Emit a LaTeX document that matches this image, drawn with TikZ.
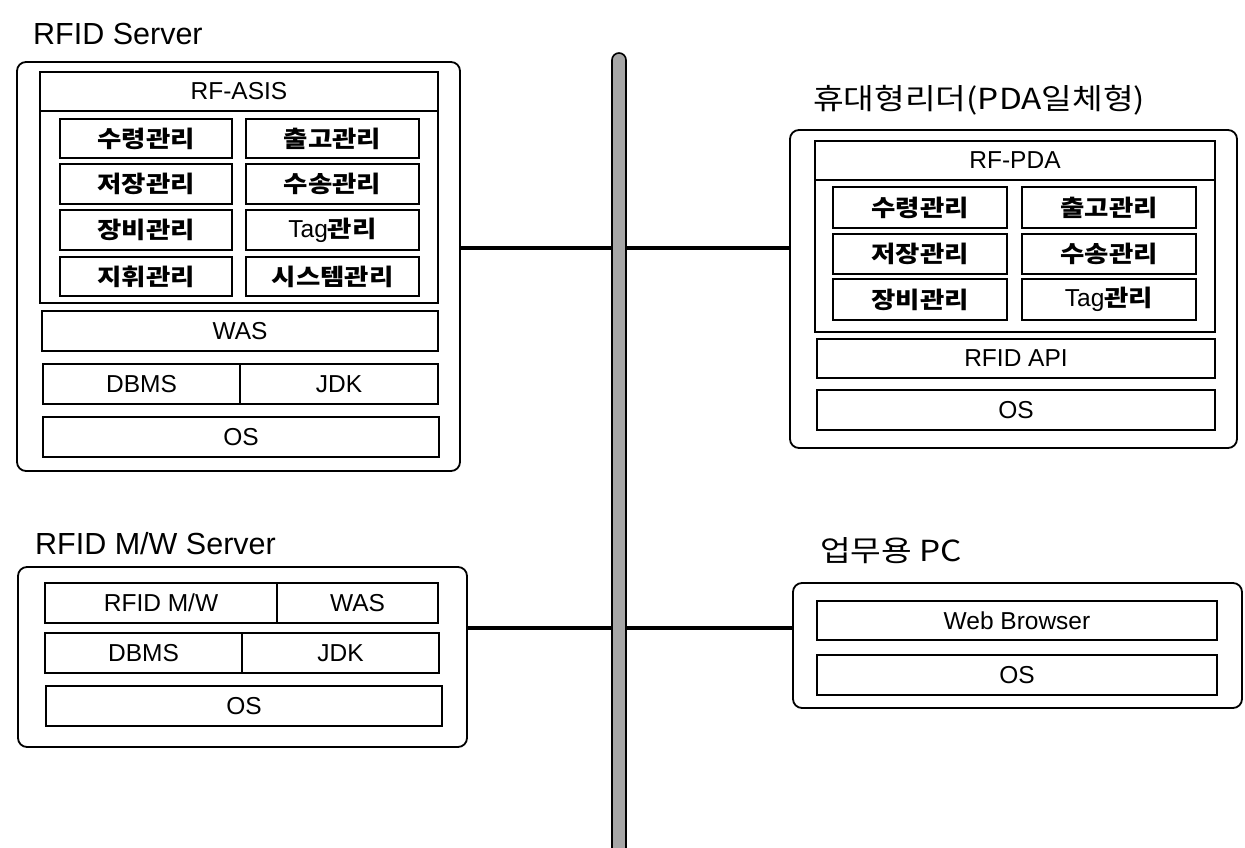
\documentclass[tikz,border=0pt]{standalone}
\usepackage{fontspec}
\setmainfont{Liberation Sans}
\newfontfamily\kr{Noto Sans CJK KR}[FakeStretch=1.15]
\newcommand\tagword{{\rmfamily\mdseries\fontsize{24.5}{27}\selectfont Tag}}
\newcommand\cellat[7]{%
  \pgfmathsetmacro\mycw{#5-#3}\pgfmathsetmacro\mych{#6-#4}%
  \pgfmathsetmacro\mycx{(#3+#5)/2}\pgfmathsetmacro\mycy{(#4+#6)/2}%
  \node[#1, minimum width=\mycw pt, minimum height=\mych pt] (#2) at (\mycx,\mycy) {#7};}
\begin{document}
\begin{tikzpicture}[x=1pt,y=-1pt,
  cell/.style={draw=black, line width=1.5pt, inner sep=0pt, font=\fontsize{24.5}{27}\selectfont},
  kcell/.style={cell, font=\fontsize{23}{26}\selectfont\kr\bfseries},
  outer/.style={draw=black, line width=1.8pt, rounded corners=9pt, inner sep=0pt},
  title/.style={anchor=west, inner sep=0pt, font=\fontsize{30.5}{33}\selectfont},
  ktitle/.style={anchor=west, inner sep=0pt, font=\fontsize{29}{32}\selectfont\kr},
  wire/.style={draw=black, line width=3.5pt},
  bus/.style={draw=black, line width=1.6pt, fill=black!35, rounded corners=7pt, minimum width=14pt, minimum height=810pt, inner sep=0pt}]
\useasboundingbox (0,0) rectangle (1245,848);
\fill[white] (0,0) rectangle (1245,848);

% ---------- RFID Server ----------
\node[title] (srvT) at (33,34) {RFID Server};
\cellat{outer}{srv}{17}{62}{460}{471}{}
\cellat{cell}{asisC}{40}{72}{438}{303}{}
\cellat{cell}{asis}{40}{72}{438}{111}{RF-ASIS}
\cellat{kcell}{s11}{60}{119}{232}{158}{수령관리}
\cellat{kcell}{s12}{246}{119}{419}{158}{출고관리}
\cellat{kcell}{s21}{60}{164}{232}{204}{저장관리}
\cellat{kcell}{s22}{246}{164}{419}{204}{수송관리}
\cellat{kcell}{s31}{60}{210}{232}{250}{장비관리}
\cellat{kcell}{s32}{246}{210}{419}{250}{\tagword 관리}
\cellat{kcell}{s41}{60}{257}{232}{296}{지휘관리}
\cellat{kcell}{s42}{246}{257}{419}{296}{시스템관리}
\cellat{cell}{was}{42}{311}{438}{351}{WAS}
\cellat{cell}{dbms}{43}{364}{240}{404}{DBMS}
\cellat{cell}{jdk}{240}{364}{438}{404}{JDK}
\cellat{cell}{os}{43}{417}{439}{457}{OS}

% ---------- RFID M/W Server ----------
\node[title] (mwT) at (35,544) {RFID M/W Server};
\cellat{outer}{mw}{18}{567}{467}{747}{}
\cellat{cell}{rmw}{45}{583}{277}{623}{RFID M/W}
\cellat{cell}{was2}{277}{583}{438}{623}{WAS}
\cellat{cell}{dbms2}{45}{633}{242}{673}{DBMS}
\cellat{cell}{jdk2}{242}{633}{439}{673}{JDK}
\cellat{cell}{os2}{46}{686}{442}{726}{OS}

% ---------- PDA ----------
\node[ktitle] (pdaT) at (813,100) {휴대형리더(PDA일체형)};
\cellat{outer}{pda}{790}{130}{1237}{448}{}
\cellat{cell}{pdaC}{815}{141}{1215}{332}{}
\cellat{cell}{rfpda}{815}{141}{1215}{180}{RF-PDA}
\cellat{kcell}{p11}{833}{187}{1007}{228}{수령관리}
\cellat{kcell}{p12}{1022}{187}{1196}{228}{출고관리}
\cellat{kcell}{p21}{833}{234}{1007}{274}{저장관리}
\cellat{kcell}{p22}{1022}{234}{1196}{274}{수송관리}
\cellat{kcell}{p31}{833}{279}{1007}{320}{장비관리}
\cellat{kcell}{p32}{1022}{279}{1196}{320}{\tagword 관리}
\cellat{cell}{api}{817}{339}{1215}{378}{RFID API}
\cellat{cell}{os3}{817}{390}{1215}{430}{OS}

% ---------- PC ----------
\node[ktitle] (pcT) at (820,551) {업무용 PC};
\cellat{outer}{pc}{793}{583}{1242}{708}{}
\cellat{cell}{web}{817}{601}{1217}{640}{Web Browser}
\cellat{cell}{os4}{817}{655}{1217}{695}{OS}

% ---------- bus and wires ----------
\node[bus] (bus) at (619,458) {};
\coordinate (l1) at (0,248);
\coordinate (l2) at (0,628);
\draw[wire] (srv.east |- l1) -- (bus.west |- l1);
\draw[wire] (bus.east |- l1) -- (pda.west |- l1);
\draw[wire] (mw.east |- l2) -- (bus.west |- l2);
\draw[wire] (bus.east |- l2) -- (pc.west |- l2);
\end{tikzpicture}
\end{document}
